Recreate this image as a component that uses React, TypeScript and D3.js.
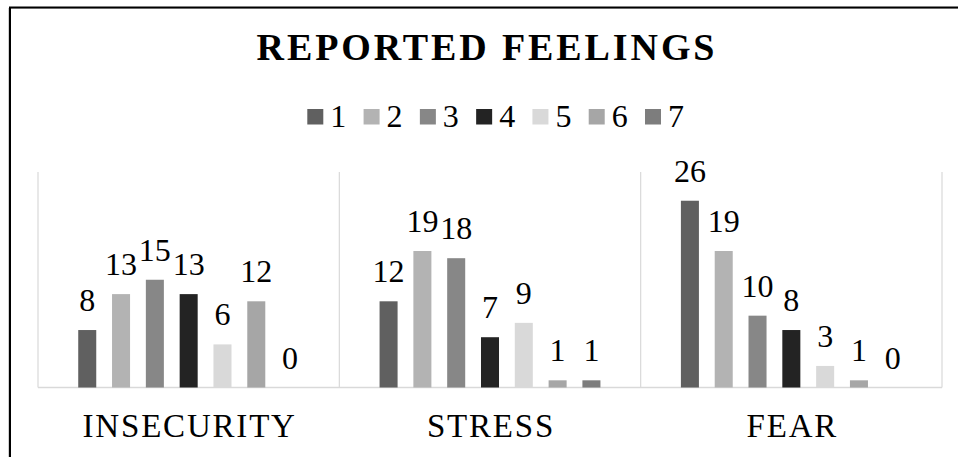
import React from "react";
import * as d3 from "d3";

const categories = ["INSECURITY", "STRESS", "FEAR"];
const seriesNames = ["1", "2", "3", "4", "5", "6", "7"];
const insecurity = [8, 13, 15, 13, 6, 12, 0];
const stress = [12, 19, 18, 7, 9, 1, 1];
const fear = [26, 19, 10, 8, 3, 1, 0];
const seriesColors = ["#606060", "#b3b3b3", "#878787", "#232323", "#d9d9d9", "#a6a6a6", "#7d7d7d"];
const title = "REPORTED FEELINGS";

const W = 958;
const H = 457;
const FONT = "'Liberation Serif', 'Times New Roman', serif";

export default function App() {
  const values = [insecurity, stress, fear];
  const plot = { left: 38, right: 942, top: 172, bottom: 387.5 };
  const x0 = d3.scaleBand<string>().domain(categories).range([plot.left, plot.right]).padding(0);
  const x1 = d3
    .scaleBand<string>()
    .domain(seriesNames)
    .range([0, x0.bandwidth()])
    .paddingInner(0.467)
    .paddingOuter(1.19);
  const y = d3.scaleLinear().domain([0, 30]).range([plot.bottom, plot.top]);
  const legendX = d3.scalePoint<string>().domain(seriesNames).range([307.3, 645]);

  const gridXs = [...categories.map((c) => x0(c) as number), plot.right];

  return (
    <div style={{ position: "absolute", left: 0, top: 0 }}>
      <svg width={W} height={H} style={{ display: "block", background: "#fff" }}>
        <rect x={0} y={0} width={W} height={H} fill="#fff" />
        {/* frame */}
        <line x1={8} y1={8.5} x2={W} y2={8.5} stroke="#d0d0d0" strokeWidth={1} />
        <line x1={8.5} y1={8} x2={8.5} y2={H} stroke="#d0d0d0" strokeWidth={1} />
        <line x1={9} y1={7.5} x2={W} y2={7.5} stroke="#000" strokeWidth={2} />
        <line x1={10} y1={7} x2={10} y2={H} stroke="#000" strokeWidth={2} />

        {/* title */}
        <text
          x={487}
          y={60}
          textAnchor="middle"
          fontFamily={FONT}
          fontWeight="bold"
          fontSize={38}
          letterSpacing={2.9}
          fill="#000"
        >
          {title}
        </text>

        {/* legend */}
        {seriesNames.map((s, i) => {
          const lx = legendX(s) as number;
          return (
            <g key={s}>
              <rect x={lx} y={109} width={16} height={15.5} fill={seriesColors[i]} />
              <text x={lx + 23} y={126.7} fontFamily={FONT} fontSize={32} fill="#000">
                {s}
              </text>
            </g>
          );
        })}

        {/* gridlines */}
        {gridXs.map((gx, i) => (
          <line key={i} x1={gx} y1={plot.top} x2={gx} y2={plot.bottom} stroke="#d9d9d9" strokeWidth={1.2} />
        ))}
        <line x1={plot.left} y1={plot.bottom} x2={plot.right} y2={plot.bottom} stroke="#d9d9d9" strokeWidth={1.5} />

        {/* bars */}
        {categories.map((c, ci) => (
          <g key={c} transform={`translate(${x0(c)},0)`}>
            {seriesNames.map((s, si) => {
              const v = values[ci][si];
              const bx = x1(s) as number;
              return (
                <g key={s}>
                  <rect
                    x={bx}
                    y={y(v)}
                    width={x1.bandwidth()}
                    height={plot.bottom - y(v)}
                    fill={seriesColors[si]}
                  />
                  <text
                    x={bx + x1.bandwidth() / 2}
                    y={y(v) - 19}
                    textAnchor="middle"
                    fontFamily={FONT}
                    fontSize={32}
                    fill="#000"
                  >
                    {v}
                  </text>
                </g>
              );
            })}
            <text
              x={x0.bandwidth() / 2 + 1}
              y={436.7}
              textAnchor="middle"
              fontFamily={FONT}
              fontSize={33}
              letterSpacing={1.8}
              fill="#000"
            >
              {c}
            </text>
          </g>
        ))}
      </svg>
    </div>
  );
}
